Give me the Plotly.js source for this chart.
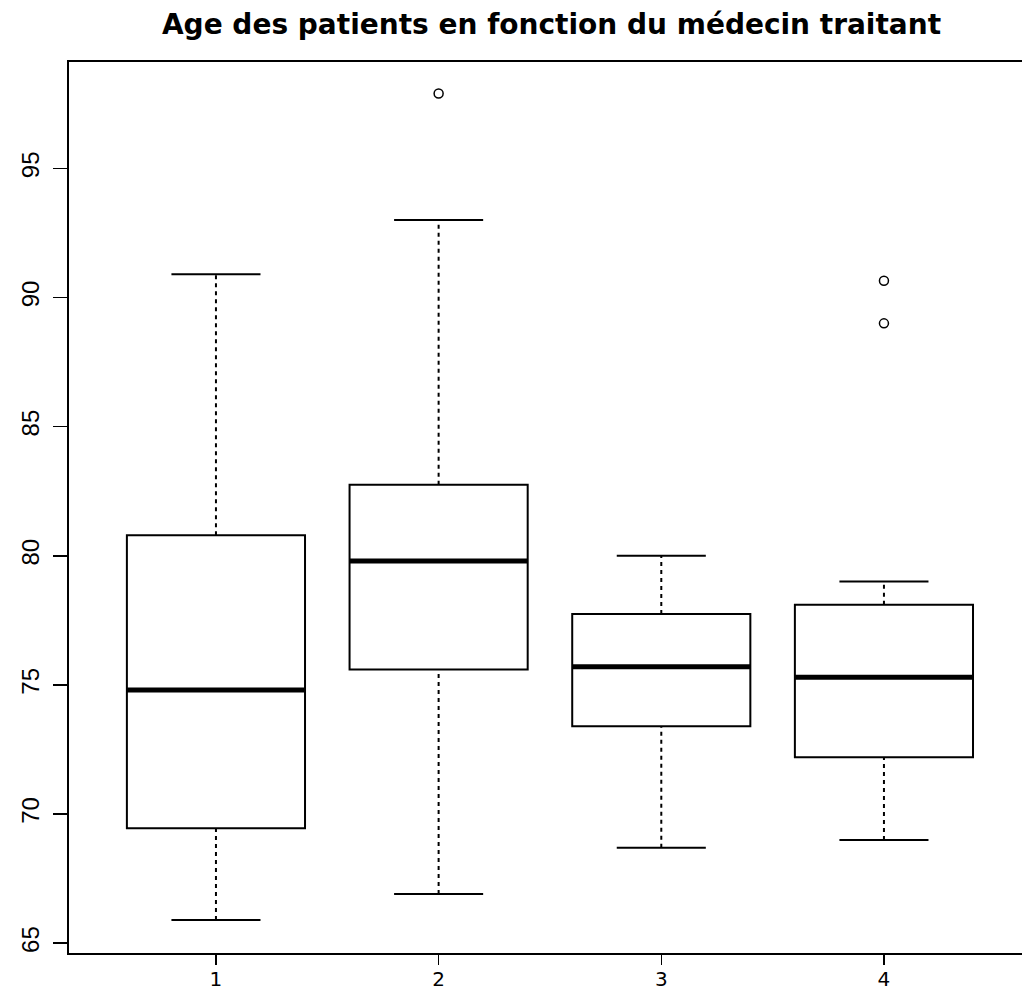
<!DOCTYPE html>
<html>
<head>
<meta charset="utf-8">
<script src="https://cdn.plot.ly/plotly-3.0.1.min.js"></script>
<style>html,body{margin:0;padding:0;background:#fff}#chart{width:1022px;height:991px}</style>
</head>
<body>
<div id="chart"></div>
<script>
// Data (age of patients per doctor)
const doctors = [1, 2, 3, 4];
const tickLabels = ["1", "2", "3", "4"];
const lowerWhisker = [65.9, 66.9, 68.7, 69.0];
const q1Values = [69.45, 75.6, 73.4, 72.2];
const medianValues = [74.8, 79.8, 75.7, 75.3];
const q3Values = [80.8, 82.75, 77.75, 78.1];
const upperWhisker = [90.9, 93.0, 80.0, 79.0];
const outlierDoctor = [2, 4, 4];
const outlierAge = [97.9, 90.65, 89.0];
const yTicks = [65, 70, 75, 80, 85, 90, 95];
const titleText = "Age des patients en fonction du médecin traitant";

const BOXW = 0.8, CAPW = 0.4;
function segs(fnX, fnY) {
  const xs = [], ys = [];
  doctors.forEach((d, i) => {
    const [x0, x1] = fnX(d, i), [y0, y1] = fnY(d, i);
    xs.push(x0, x1, null); ys.push(y0, y1, null);
  });
  return {x: xs, y: ys};
}

const boxTrace = {
  type: 'box', x: doctors, q1: q1Values, median: medianValues, q3: q3Values,
  lowerfence: q1Values, upperfence: q3Values,
  width: BOXW, fillcolor: 'rgba(255,255,255,0)',
  line: {color: '#000', width: 2}, boxpoints: false, hoverinfo: 'skip', showlegend: false
};
const med = segs((d) => [d - BOXW / 2, d + BOXW / 2], (d, i) => [medianValues[i], medianValues[i]]);
const medTrace = {type: 'scatter', mode: 'lines', x: med.x, y: med.y, line: {color: '#000', width: 5}, hoverinfo: 'skip', showlegend: false};
const wu = segs((d) => [d, d], (d, i) => [q3Values[i], upperWhisker[i]]);
const wl = segs((d) => [d, d], (d, i) => [lowerWhisker[i], q1Values[i]]);
const whiskTrace = {type: 'scatter', mode: 'lines', x: wu.x.concat(wl.x), y: wu.y.concat(wl.y), line: {color: '#000', width: 2, dash: '4px,4px'}, hoverinfo: 'skip', showlegend: false};
const cu = segs((d) => [d - CAPW / 2, d + CAPW / 2], (d, i) => [upperWhisker[i], upperWhisker[i]]);
const cl = segs((d) => [d - CAPW / 2, d + CAPW / 2], (d, i) => [lowerWhisker[i], lowerWhisker[i]]);
const capTrace = {type: 'scatter', mode: 'lines', x: cu.x.concat(cl.x), y: cu.y.concat(cl.y), line: {color: '#000', width: 2}, hoverinfo: 'skip', showlegend: false};
const outTrace = {type: 'scatter', mode: 'markers', x: outlierDoctor, y: outlierAge, marker: {symbol: 'circle-open', size: 9, color: '#000', line: {width: 1.5, color: '#000'}}, hoverinfo: 'skip', showlegend: false};

const layout = {
  width: 1022, height: 991,
  margin: {l: 69, r: 0, t: 62, b: 38},
  paper_bgcolor: '#fff', plot_bgcolor: '#fff',
  font: {family: 'Liberation Sans, Arial, sans-serif', color: '#000'},
  title: {text: titleText, font: {size: 28, family: 'DejaVu Sans, sans-serif', weight: 'bold', color: '#000'},
          x: (551.5 - 69) / 953, xref: 'paper', xanchor: 'center', y: 1 - 24 / 991, yref: 'container', yanchor: 'middle'},
  xaxis: {range: [0.34, 4.62], tickmode: 'array', tickvals: doctors, ticktext: tickLabels,
          showgrid: false, zeroline: false, showline: true, mirror: true, linecolor: '#000', linewidth: 2,
          ticks: 'outside', ticklen: 10, tickwidth: 1.5, tickcolor: '#000',
          tickfont: {size: 20, family: 'DejaVu Sans, sans-serif'}, ticklabelstandoff: -3},
  yaxis: {range: [64.62, 99.12], tickmode: 'array', tickvals: yTicks,
          showgrid: false, zeroline: false, showline: true, linecolor: '#000', linewidth: 2,
          ticks: 'outside', ticklen: 14, tickwidth: 1.5, tickcolor: '#000', tickfont: {size: 24}, tickangle: -90, ticklabelstandoff: 4},
  showlegend: false
};

Plotly.newPlot('chart', [boxTrace, whiskTrace, capTrace, medTrace, outTrace], layout, {staticPlot: true, displayModeBar: false});
</script>
</body>
</html>
